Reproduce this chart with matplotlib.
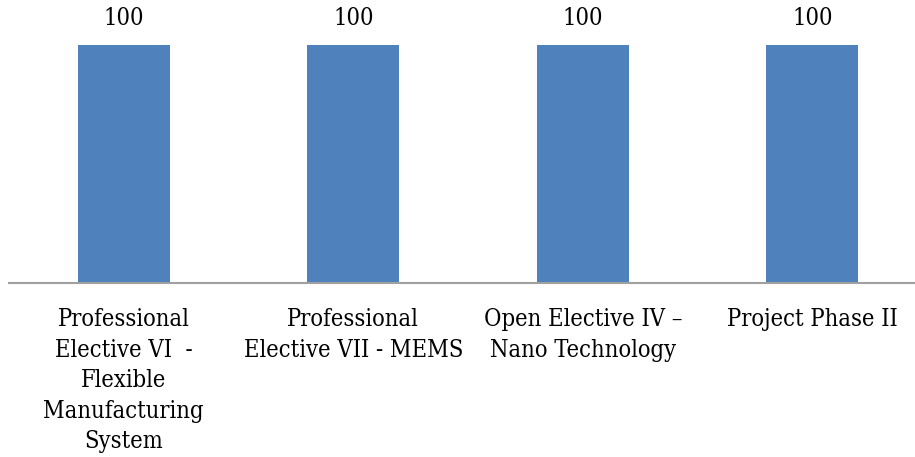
import matplotlib
matplotlib.use("Agg")
import matplotlib.pyplot as plt

categories = [
    "Professional\nElective VI  -\nFlexible\nManufacturing\nSystem",
    "Professional\nElective VII - MEMS",
    "Open Elective IV \u2013\nNano Technology",
    "Project Phase II",
]
values = [100, 100, 100, 100]

W, H = 915, 457
fig = plt.figure(figsize=(W / 100, H / 100), dpi=100)
fig.patch.set_facecolor("white")

# plot area in pixels: x from 9 to 927 (runs past the right edge), y baseline 283, value 100 at 45
left, right = 9, 927
base, top = 283, 45
ax = fig.add_axes([left / W, (H - base) / H, (right - left) / W, (base - top) / H])
ax.set_xlim(-0.5, len(categories) - 0.5)
ax.set_ylim(0, 100)

font = "DejaVu Serif"
fs = 17
stretch = "condensed"

x = list(range(len(categories)))
bars = ax.bar(x, values, width=0.4, color="#4F81BD", zorder=2)

for xi, v in zip(x, values):
    ax.text(xi, v + 6.5, f"{v}", ha="center", va="bottom", family=font,
            fontsize=fs, fontstretch=stretch, color="black", clip_on=False)

for side in ["top", "right", "left"]:
    ax.spines[side].set_visible(False)
ax.spines["bottom"].set_color("#A0A0A0")
ax.spines["bottom"].set_linewidth(1.5)
ax.set_yticks([])
ax.set_xticks(x)
ax.set_xticklabels(categories, family=font, fontsize=fs, fontstretch=stretch,
                   linespacing=1.42, va="top", ha="center")
ax.tick_params(axis="x", length=0, pad=18)
ax.set_facecolor("none")

fig.savefig("out.png", dpi=100, facecolor="white")
